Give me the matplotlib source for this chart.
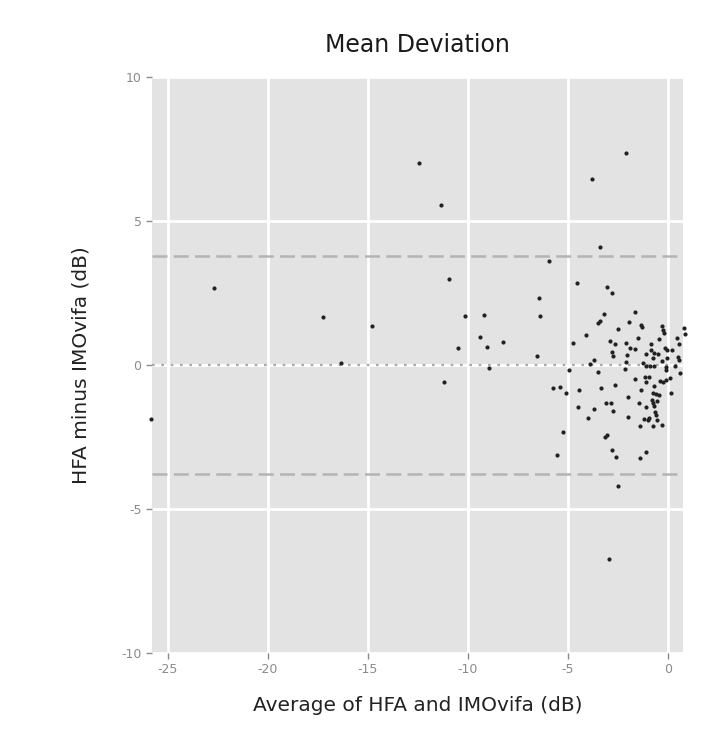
import numpy as np
import matplotlib.pyplot as plt

plt.rcParams["axes.unicode_minus"] = False

# Bland-Altman data: average (x) vs difference (y), in dB
avg = [-25.85, -22.7, -17.25, -16.35, -14.78, -12.43, -11.35, -11.18, -10.93,
       -10.5, -10.15, -9.4, -9.2, -9.03, -8.95, -8.25,
       -3.8, -2.07, -3.4, -5.93, -4.52, -3.03, -2.78, -6.45, -6.37, -3.17,
       -1.65, -3.4, -3.48, -1.95, -1.35, -1.28, -2.47, -0.28, -0.23, -0.2,
       0.83, 0.85, -4.07, -4.73, -2.87, -2.65, -2.1, -0.43, -0.85, 0.58,
       -2.8, -2.73, -1.63, -2.02, -0.85, -0.68, -0.12, -0.05, 0.23, -1.1,
       -0.48, -0.73, -0.05, 0.52, 0.55, -3.7, -3.87, -2.07, -1.23, -1.07,
       -0.9, -0.68, -2.15, -0.1, -0.07, 0.35, 0.6, -4.95, -3.47, -1.65,
       -1.15, -0.95, -1.1, -0.4, -0.23, -0.07, -5.72, -5.4, -5.07, -4.45,
       -3.35, -2.65, -1.35, -0.68, -0.73, -0.6, -0.43, 0.18, -1.98, -3.1,
       -2.82, -1.45, -0.73, -0.68, -1.07, -4.48, -3.67, -2.72, -0.65, -0.57,
       -3.97, -1.98, -1.18, -0.93, -0.98, -0.52, -1.37, -0.73, -0.28, -5.22,
       -3.02, -3.12, -2.77, -2.57, -1.4, -1.1, -5.52, -2.47, -2.95, -6.53,
       -1.5, -0.3, 0.1, -0.8, -1.9, -0.55, 0.45]
diff = [-1.87, 2.66, 1.68, 0.06, 1.37, 7.02, 5.56, -0.6, 3.0,
        0.61, 1.7, 0.98, 1.74, 0.64, -0.09, 0.81,
        6.48, 7.38, 4.11, 3.62, 2.86, 2.72, 2.49, 2.32, 1.7, 1.79,
        1.84, 1.53, 1.45, 1.49, 1.39, 1.31, 1.24, 1.35, 1.22, 1.1,
        1.28, 1.08, 1.05, 0.78, 0.85, 0.73, 0.75, 0.89, 0.73, 0.72,
        0.47, 0.31, 0.57, 0.34, 0.52, 0.43, 0.58, 0.52, 0.54, 0.4,
        0.37, 0.23, 0.23, 0.29, 0.17, 0.17, 0.02, 0.12, 0.08, -0.02,
        -0.03, -0.03, -0.12, -0.08, -0.17, -0.03, -0.29, -0.17, -0.25, -0.5,
        -0.41, -0.43, -0.58, -0.54, -0.58, -0.52, -0.79, -0.75, -0.96, -0.85,
        -0.8, -0.69, -0.87, -0.72, -0.96, -1.01, -1.04, -0.96, -1.1, -1.3,
        -1.3, -1.33, -1.31, -1.42, -1.47, -1.47, -1.52, -1.6, -1.62, -1.74,
        -1.83, -1.82, -1.88, -1.85, -1.91, -1.91, -2.12, -2.12, -2.08, -2.32,
        -2.43, -2.51, -2.95, -3.19, -3.24, -3.01, -3.11, -4.2, -6.74, 0.31,
        0.95, 0.15, -0.45, -1.2, 0.6, -1.25, 0.95]

mean_diff = 0.0
loa = [3.8, -3.8]

fig = plt.figure(figsize=(7.24, 7.35), dpi=100)
ax = fig.add_axes([0.21, 0.1116, 0.733, 0.7834])
ax.set_facecolor("#e3e3e3")
for s in ax.spines.values():
    s.set_visible(False)

ax.set_xlim(-25.8, 0.75)
ax.set_ylim(-10, 10)
ax.set_xticks([-25, -20, -15, -10, -5, 0])
ax.set_yticks([-10, -5, 0, 5, 10])
ax.grid(True, color="white", linewidth=2.0)
ax.set_axisbelow(True)
ax.tick_params(colors="#8a8a8a", labelsize=9, length=4, width=1)

ax.axhline(mean_diff, color="#a8a8a8", linestyle=(0, (1.2, 3)), linewidth=1.6)
for l in loa:
    ax.axhline(l, color="#b4b4b4", linestyle=(0, (6, 2.5)), linewidth=1.8)

ax.scatter(avg, diff, s=9, color="#222222", zorder=3, linewidths=0, clip_on=False)

ax.set_title("Mean Deviation", fontsize=17, pad=18, color="#1a1a1a")
ax.set_xlabel("Average of HFA and IMOvifa (dB)", fontsize=14.5, labelpad=14, color="#222222")
ax.set_ylabel("HFA minus IMOvifa (dB)", fontsize=14.5, labelpad=22, color="#222222")

fig.savefig("out.png", dpi=100)
